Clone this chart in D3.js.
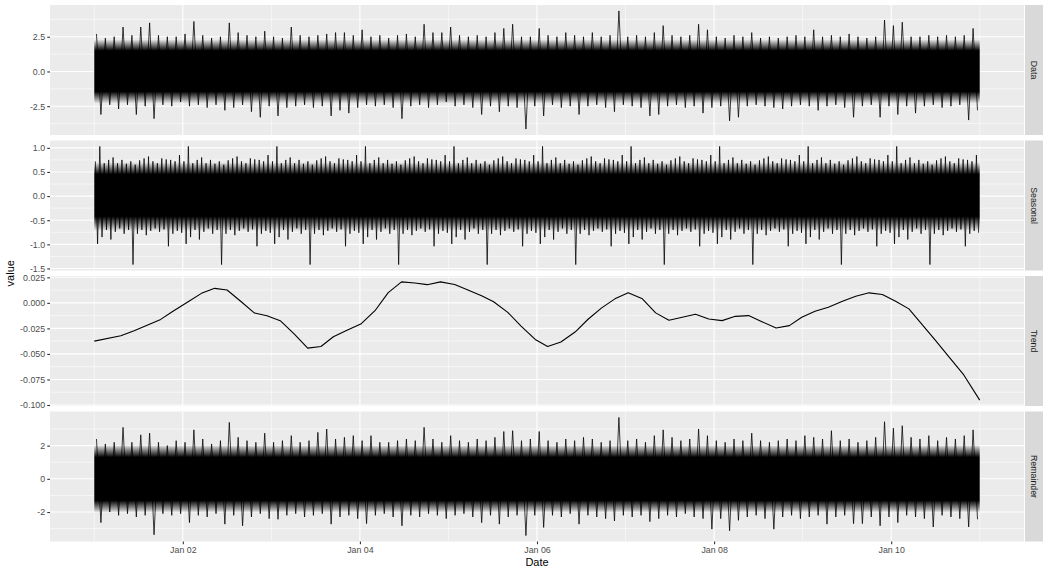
<!DOCTYPE html>
<html>
<head>
<meta charset="utf-8">
<script src="https://cdn.jsdelivr.net/npm/d3@7"></script>
<style>
  body { margin: 0; background: #ffffff; }
  svg { display: block; font-family: "Liberation Sans", Arial, sans-serif; }
</style>
</head>
<body>
<div id="plotSect"></div>
<script>
/* global d3 */

// ---- data ----

let panelNames = ["Data", "Seasonal", "Trend", "Remainder"];
let startDate = "2018-01-01";
let tickDates = ["2018-01-02", "2018-01-04", "2018-01-06", "2018-01-08", "2018-01-10"];
let tickLabels = ["Jan 02", "Jan 04", "Jan 06", "Jan 08", "Jan 10"];
let minorDates = ["2018-01-01", "2018-01-03", "2018-01-05", "2018-01-07", "2018-01-09", "2018-01-11"];

// noisy series: high / low tip of each tenth of a day
let dataHi = [2.7,2.4,2.5,3.2,2.6,3.2,3.5,2.6,2.5,2.5,
    2.7,3.6,2.6,2.4,2.5,3.5,2.8,2.6,2.5,2.9,
    2.5,2.4,3.2,2.6,2.5,2.6,2.7,2.8,2.8,2.6,
    3.0,2.5,2.6,2.4,2.6,2.7,2.5,3.4,2.8,2.8,
    3.2,2.6,2.5,2.6,2.5,2.8,3.1,3.4,2.5,2.5,
    3.1,2.6,2.5,2.8,2.6,2.5,2.8,2.5,2.6,4.36,
    2.5,2.6,2.5,2.8,3.3,2.6,2.5,2.6,3.4,3.0,
    2.5,2.4,2.6,2.5,2.8,2.4,2.5,2.4,2.5,2.6,
    2.5,3.0,2.5,2.6,2.5,2.7,2.5,2.4,2.5,3.7,
    3.3,3.55,2.5,2.5,2.6,2.5,2.6,2.5,2.6,3.1];
let dataLo = [-3.1,-2.4,-2.7,-2.4,-3.1,-2.5,-3.4,-2.4,-2.5,-2.2,
    -2.5,-2.4,-2.6,-2.4,-2.8,-2.6,-2.4,-2.9,-3.3,-2.5,
    -3.2,-2.6,-2.5,-2.4,-2.6,-2.5,-3.2,-2.8,-3.0,-2.6,
    -2.4,-2.5,-2.4,-2.6,-3.4,-2.5,-2.4,-2.6,-2.4,-2.2,
    -2.5,-2.4,-2.6,-3.1,-2.5,-2.9,-2.5,-2.6,-4.15,-2.5,
    -3.2,-2.4,-2.6,-2.5,-3.1,-2.5,-2.4,-2.6,-2.9,-2.4,
    -2.5,-2.6,-3.2,-3.1,-2.5,-2.4,-2.6,-2.5,-3.0,-2.6,
    -2.5,-3.55,-3.3,-2.5,-2.4,-2.5,-2.6,-2.7,-2.5,-2.4,
    -2.5,-2.8,-2.5,-2.4,-2.6,-3.3,-2.5,-2.4,-3.3,-2.5,
    -3.1,-2.5,-3.0,-2.5,-2.4,-2.6,-2.5,-2.4,-3.5,-2.8];
// dense band: outer low, solid low, solid high, outer high
let dataBand = [-2.3, -1.45, 1.5, 2.3];

// seasonal component repeats every day: tips of each twentieth of a day
let seasonalHi = [0.72,1.03,0.68,0.75,0.8,0.68,0.75,0.67,0.72,0.65,
    0.74,0.78,0.82,0.72,0.68,0.78,0.76,0.75,0.72,0.85];
let seasonalLo = [-0.99,-0.85,-0.7,-0.9,-0.74,-0.67,-0.78,-0.7,-1.42,-0.78,
    -0.7,-0.81,-0.72,-0.67,-0.74,-0.69,-1.04,-0.78,-0.72,-0.76];
let seasonalBand = [-0.72, -0.42, 0.45, 0.7];

let trendDays = [0.00,0.30,0.45,0.75,0.88,1.06,1.21,1.36,1.50,1.66,
    1.81,1.95,2.10,2.26,2.41,2.56,2.70,2.86,3.01,3.17,
    3.32,3.47,3.62,3.76,3.91,4.07,4.22,4.38,4.51,4.67,
    4.82,4.98,5.12,5.27,5.43,5.58,5.73,5.88,6.03,6.19,
    6.34,6.49,6.64,6.79,6.94,7.09,7.24,7.39,7.54,7.70,
    7.85,7.99,8.14,8.29,8.45,8.60,8.75,8.90,9.05,9.20,
    9.35,9.50,9.65,9.82,10.0];
let trendValues = [-0.0375,-0.0322,-0.0273,-0.0162,-0.0087,0.0011,0.0093,0.0142,0.0126,0.0011,
    -0.0100,-0.0126,-0.0175,-0.0306,-0.0443,-0.0427,-0.0332,-0.0267,-0.0208,-0.0077,
    0.0100,0.0205,0.0195,0.0178,0.0205,0.0180,0.0126,0.0067,0.0011,-0.0093,
    -0.0227,-0.0358,-0.0427,-0.0384,-0.0286,-0.0158,-0.0049,0.0039,0.0098,0.0039,
    -0.0098,-0.0171,-0.0141,-0.0112,-0.0158,-0.0174,-0.0132,-0.0125,-0.0184,-0.0246,
    -0.0223,-0.0141,-0.0083,-0.0043,0.0016,0.0065,0.0098,0.0082,0.0016,-0.0059,
    -0.0214,-0.0368,-0.0526,-0.0706,-0.0952];

let remainderHi = [2.4,2.1,2.2,3.1,2.2,2.65,2.75,2.2,2.0,2.3,
    2.2,2.95,2.4,2.1,2.3,3.4,2.5,2.3,2.2,2.75,
    2.2,2.3,2.6,2.2,2.3,2.8,3.0,2.4,2.5,2.6,
    2.3,2.6,2.2,2.2,2.3,2.4,2.3,3.1,2.4,2.2,
    2.6,2.3,2.2,2.4,2.3,2.5,2.85,2.9,2.3,2.4,
    2.85,2.3,2.2,2.4,2.3,2.5,2.4,2.2,2.3,3.7,
    2.3,2.4,2.2,2.6,2.95,2.5,2.3,2.4,3.0,2.6,
    2.3,2.2,2.4,2.3,2.75,2.3,2.2,2.3,2.4,2.3,
    2.6,2.5,2.4,2.9,2.3,2.4,2.2,2.3,2.5,3.44,
    3.05,3.2,2.5,2.4,2.6,2.3,2.5,2.4,2.6,2.95];
let remainderLo = [-2.64,-2.0,-2.2,-2.1,-2.3,-2.2,-3.37,-2.1,-2.2,-2.1,
    -2.64,-2.2,-2.3,-2.1,-2.73,-2.2,-2.83,-2.3,-2.1,-2.4,
    -2.44,-2.2,-2.1,-2.3,-2.2,-2.1,-2.73,-2.3,-2.2,-2.4,
    -2.7,-2.2,-2.1,-2.3,-2.83,-2.2,-2.3,-2.1,-2.2,-2.4,
    -2.2,-2.1,-2.3,-2.64,-2.2,-2.73,-2.3,-2.2,-3.42,-2.2,
    -2.93,-2.2,-2.3,-2.1,-2.73,-2.2,-2.3,-2.4,-2.54,-2.2,
    -2.3,-2.2,-2.58,-2.4,-2.2,-2.3,-2.1,-2.3,-2.4,-3.03,
    -2.4,-3.13,-2.5,-2.3,-2.2,-2.4,-3.03,-2.3,-2.2,-2.4,
    -2.3,-2.2,-2.73,-2.3,-2.2,-2.7,-2.7,-2.3,-2.83,-2.3,
    -2.64,-2.2,-2.3,-2.4,-2.9,-2.2,-2.3,-2.4,-2.9,-2.44];
let remainderBand = [-2.05, -1.3, 1.3, 2.05];

let dataTicks = [-2.5, 0, 2.5];
let dataTickLabels = ["-2.5", "0.0", "2.5"];
let dataMinor = [-3.75, -1.25, 1.25, 3.75];
let seasonalTicks = [-1.5, -1, -0.5, 0, 0.5, 1];
let seasonalTickLabels = ["-1.5", "-1.0", "-0.5", "0.0", "0.5", "1.0"];
let seasonalMinor = [-1.25, -0.75, -0.25, 0.25, 0.75];
let trendTicks = [-0.1, -0.075, -0.05, -0.025, 0, 0.025];
let trendTickLabels = ["-0.100", "-0.075", "-0.050", "-0.025", "0.000", "0.025"];
let trendMinor = [-0.0875, -0.0625, -0.0375, -0.0125, 0.0125];
let remainderTicks = [-2, 0, 2];
let remainderTickLabels = ["-2", "0", "2"];
let remainderMinor = [-3, -1, 1, 3];

// ---- layout ----

let SVGwidth = 1048,
    SVGheight = 574,
    panelLeft = 50,
    panelRight = 1024,
    panelTop = 5,
    panelBottom = 541.5,
    panelGap = 5.5,
    stripX = 1025,
    stripW = 18;
let panelH = (panelBottom - panelTop - panelGap * 3) / 4;

let dayMs = 864e5;
let t0 = new Date(startDate + "T00:00:00Z").getTime();
function dayToDate(d) { return new Date(t0 + d * dayMs); }

let svg = d3.select("#plotSect").append("svg")
    .attr("width", SVGwidth)
    .attr("height", SVGheight)
    .attr("viewBox", "0 0 " + SVGwidth + " " + SVGheight);
let defs = svg.append("defs");

let xScale = d3.scaleUtc()
    .domain([dayToDate(-0.5), dayToDate(10.5)])
    .range([panelLeft, panelRight]);

// zig-zag through the high and low tip of every bin
function zigzag(hi, lo, binDays) {
    let pts = [];
    hi.forEach(function(h, i) {
        pts.push([i * binDays + binDays * 0.25, h]);
        pts.push([i * binDays + binDays * 0.75, lo[i]]);
    });
    return pts;
}

let seasonalHiAll = [], seasonalLoAll = [];
for (let d = 0; d < 10; d++) {
    seasonalHiAll = seasonalHiAll.concat(seasonalHi);
    seasonalLoAll = seasonalLoAll.concat(seasonalLo);
}

let panels = [
    {name: "Data", pts: zigzag(dataHi, dataLo, 0.1), band: dataBand,
     ticks: dataTicks, labels: dataTickLabels, minor: dataMinor},
    {name: "Seasonal", pts: zigzag(seasonalHiAll, seasonalLoAll, 0.05), band: seasonalBand,
     ticks: seasonalTicks, labels: seasonalTickLabels, minor: seasonalMinor},
    {name: "Trend", pts: trendDays.map(function(d, i) { return [d, trendValues[i]]; }), band: null,
     ticks: trendTicks, labels: trendTickLabels, minor: trendMinor},
    {name: "Remainder", pts: zigzag(remainderHi, remainderLo, 0.1), band: remainderBand,
     ticks: remainderTicks, labels: remainderTickLabels, minor: remainderMinor}
];

panels.forEach(function(p, idx) {
    let top = panelTop + idx * (panelH + panelGap);
    let bottom = top + panelH;
    let ext = d3.extent(p.pts, function(d) { return d[1]; });
    let pad = (ext[1] - ext[0]) * 0.05;
    let yScale = d3.scaleLinear()
        .domain([ext[0] - pad, ext[1] + pad])
        .range([bottom, top]);

    let g = svg.append("g").attr("class", "panel");

    g.append("rect")
        .attr("x", panelLeft)
        .attr("y", top)
        .attr("width", panelRight - panelLeft)
        .attr("height", panelH)
        .style("fill", "#ebebeb");

    // minor grid
    g.selectAll(".minorY").data(p.minor).enter().append("line")
        .attr("x1", panelLeft).attr("x2", panelRight)
        .attr("y1", yScale).attr("y2", yScale)
        .style("stroke", "#ffffff").style("stroke-width", 0.55);
    g.selectAll(".minorX").data(minorDates).enter().append("line")
        .attr("x1", function(d) { return xScale(new Date(d + "T00:00:00Z")); })
        .attr("x2", function(d) { return xScale(new Date(d + "T00:00:00Z")); })
        .attr("y1", top).attr("y2", bottom)
        .style("stroke", "#ffffff").style("stroke-width", 0.55);
    // major grid
    g.selectAll(".majorY").data(p.ticks).enter().append("line")
        .attr("x1", panelLeft).attr("x2", panelRight)
        .attr("y1", yScale).attr("y2", yScale)
        .style("stroke", "#ffffff").style("stroke-width", 1.1);
    g.selectAll(".majorX").data(tickDates).enter().append("line")
        .attr("x1", function(d) { return xScale(new Date(d + "T00:00:00Z")); })
        .attr("x2", function(d) { return xScale(new Date(d + "T00:00:00Z")); })
        .attr("y1", top).attr("y2", bottom)
        .style("stroke", "#ffffff").style("stroke-width", 1.1);

    if (p.band) {
        // dense part of the trace: solid in the middle, thinning out towards the tips
        let y0 = yScale(p.band[0]), y1 = yScale(p.band[1]),
            y2 = yScale(p.band[2]), y3 = yScale(p.band[3]);
        let gradId = "band" + idx;
        let grad = defs.append("linearGradient")
            .attr("id", gradId)
            .attr("gradientUnits", "userSpaceOnUse")
            .attr("x1", 0).attr("x2", 0)
            .attr("y1", y3).attr("y2", y0);
        let span = y0 - y3;
        [[0, 0], [(y2 - y3) * 0.45 / span, 0.45], [(y2 - y3) / span, 1],
         [(y1 - y3) / span, 1], [1 - (y0 - y1) * 0.45 / span, 0.45], [1, 0]]
            .forEach(function(s) {
                grad.append("stop")
                    .attr("offset", s[0])
                    .attr("stop-color", "#000000")
                    .attr("stop-opacity", s[1]);
            });
        let area = d3.area()
            .x(function(d) { return xScale(dayToDate(d)); })
            .y0(y0)
            .y1(y3);
        g.append("path")
            .datum([0, 10])
            .attr("d", area)
            .style("fill", "url(#" + gradId + ")");
    }

    let line = d3.line()
        .x(function(d) { return xScale(dayToDate(d[0])); })
        .y(function(d) { return yScale(d[1]); });
    g.append("path")
        .datum(p.pts)
        .attr("d", line)
        .style("fill", "none")
        .style("stroke", "#000000")
        .style("stroke-opacity", p.band ? 0.85 : 1)
        .style("stroke-width", p.band ? 0.9 : 1.1)
        .style("stroke-linejoin", "round");

    // y axis
    let yAxis = d3.axisLeft(yScale)
        .tickValues(p.ticks)
        .tickFormat(function(d, i) { return p.labels[i]; })
        .tickSize(2.75)
        .tickPadding(2.2);
    let ya = svg.append("g")
        .attr("class", "yAxis")
        .attr("transform", "translate(" + panelLeft + ",0)")
        .call(yAxis);
    ya.select(".domain").remove();
    ya.selectAll("line").style("stroke", "#333333").style("stroke-width", 1.1);
    ya.selectAll("text").style("fill", "#4d4d4d").style("font-size", "8.8px")
        .style("font-family", "'Liberation Sans', Arial, sans-serif");

    // strip
    svg.append("rect")
        .attr("x", stripX)
        .attr("y", top)
        .attr("width", stripW)
        .attr("height", panelH)
        .style("fill", "#d9d9d9");
    svg.append("text")
        .attr("transform", "translate(" + (stripX + stripW / 2) + "," + (top + panelH / 2) + ") rotate(90)")
        .attr("dy", "0.35em")
        .style("text-anchor", "middle")
        .style("font-size", "8.8px")
        .style("fill", "#1a1a1a")
        .text(p.name);
});

// x axis
let xAxis = d3.axisBottom(xScale)
    .tickValues(tickDates.map(function(d) { return new Date(d + "T00:00:00Z"); }))
    .tickFormat(function(d, i) { return tickLabels[i]; })
    .tickSize(2.75)
    .tickPadding(2.2);
let xa = svg.append("g")
    .attr("class", "xAxis")
    .attr("transform", "translate(0," + panelBottom + ")")
    .call(xAxis);
xa.select(".domain").remove();
xa.selectAll("line").style("stroke", "#333333").style("stroke-width", 1.1);
xa.selectAll("text").style("fill", "#4d4d4d").style("font-size", "8.8px")
    .style("font-family", "'Liberation Sans', Arial, sans-serif");

svg.append("text")
    .attr("x", (panelLeft + panelRight) / 2)
    .attr("y", 566)
    .style("text-anchor", "middle")
    .style("font-size", "11px")
    .style("fill", "#000000")
    .text("Date");

svg.append("text")
    .attr("transform", "translate(10," + ((panelTop + panelBottom) / 2) + ") rotate(-90)")
    .attr("dy", "0.35em")
    .style("text-anchor", "middle")
    .style("font-size", "11px")
    .style("fill", "#000000")
    .text("value");
</script>
</body>
</html>
